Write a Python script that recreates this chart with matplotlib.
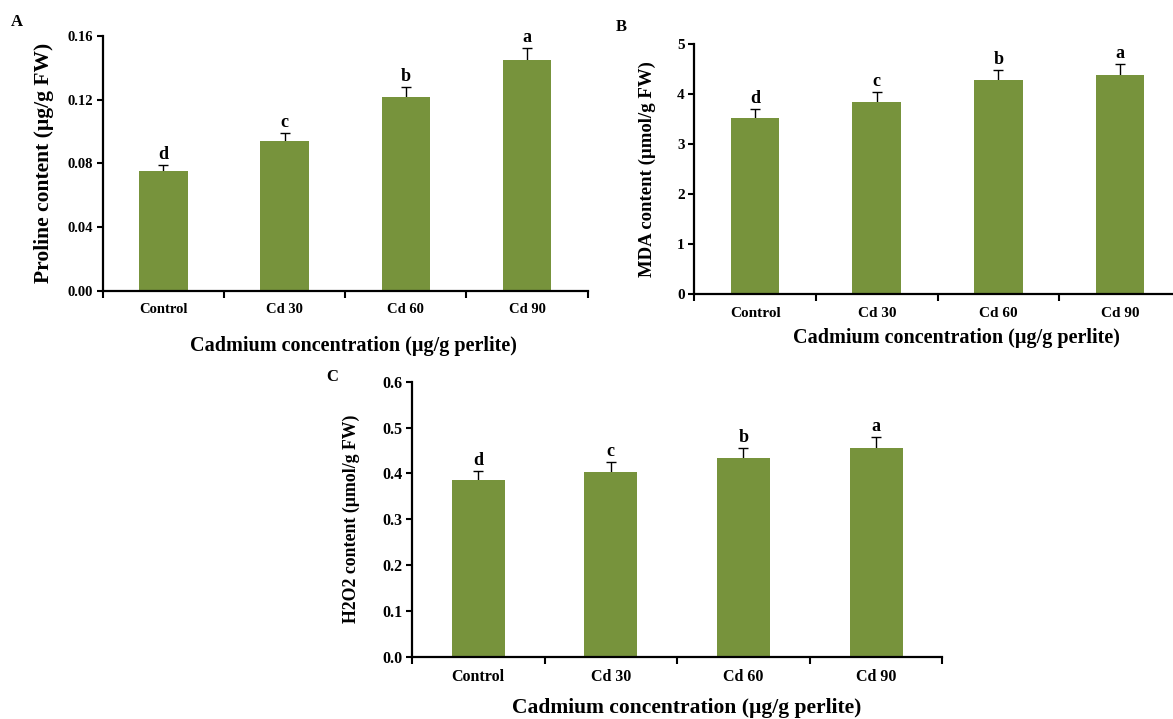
import matplotlib
matplotlib.use('Agg')
import matplotlib.pyplot as plt
import numpy as np

plt.rcParams['font.family'] = ['Liberation Serif', 'DejaVu Serif']
plt.rcParams['font.weight'] = 'bold'

groups = ['Control', 'Cd 30', 'Cd 60', 'Cd 90']
letters = ['d', 'c', 'b', 'a']

proline = [0.075, 0.094, 0.122, 0.145]
proline_err = [0.004, 0.005, 0.006, 0.0073]

mda = [3.52, 3.85, 4.28, 4.38]
mda_err = [0.18, 0.20, 0.21, 0.23]

h2o2 = [0.385, 0.404, 0.433, 0.456]
h2o2_err = [0.020, 0.021, 0.022, 0.023]

bar_color = '#77933C'
xlabel = 'Cadmium concentration (\u00b5g/g perlite)'

fig = plt.figure(figsize=(11.73, 7.19), dpi=100)


def panel(rect, vals, errs, ylim, yticks, yfmt, ylabel, ylab_size, ylab_x, tick_size):
    ax = fig.add_axes(rect)
    x = np.arange(len(groups))
    # error bars behind the bars so only the upper half shows
    ax.errorbar(x, vals, yerr=errs, fmt='none', ecolor='black',
                elinewidth=1, capsize=3.5, capthick=1, zorder=1)
    ax.bar(x, vals, width=0.4, color=bar_color, zorder=2)
    for xi, v, e, l in zip(x, vals, errs, letters):
        ax.annotate(l, (xi, v + e), xytext=(0, 1.5), textcoords='offset points',
                    ha='center', va='bottom', fontsize=13, fontweight='bold')
    ax.set_xlim(-0.5, 3.5)
    ax.set_ylim(*ylim)
    ax.set_yticks(yticks)
    ax.set_yticklabels([yfmt.format(t) for t in yticks], fontsize=tick_size, fontweight='bold')
    ax.set_xticks([-0.5, 0.5, 1.5, 2.5, 3.5])
    ax.set_xticklabels([])
    ax.set_xticks(x, minor=True)
    ax.set_xticklabels(groups, minor=True, fontsize=tick_size, fontweight='bold')
    ax.tick_params(axis='x', which='minor', length=0, pad=9)
    ax.tick_params(axis='x', which='major', length=5, width=1.5, direction='out')
    ax.tick_params(axis='y', length=4, width=1.5, direction='out', pad=3)
    for s in ['top', 'right']:
        ax.spines[s].set_visible(False)
    for s in ['left', 'bottom']:
        ax.spines[s].set_linewidth(1.6)
        ax.spines[s].set_clip_on(False)
    ax.set_ylabel(ylabel, fontsize=ylab_size, fontweight='bold')
    ax.yaxis.set_label_coords(ylab_x, 0.5)
    return ax


axA = panel([0.0876, 0.5957, 0.4133, 0.3542], proline, proline_err, (0, 0.16),
            [0, 0.04, 0.08, 0.12, 0.16], '{:.2f}', 'Proline content (\u00b5g/g FW)', 15.5, -0.100, 10.5)
axB = panel([0.5919, 0.5907, 0.4149, 0.3477], mda, mda_err, (0, 5),
            [0, 1, 2, 3, 4, 5], '{:.0f}', 'MDA content (\u00b5mol/g FW)', 13.5, -0.079, 11)
axC = panel([0.3512, 0.0866, 0.4522, 0.3825], h2o2, h2o2_err, (0, 0.6),
            [0, 0.1, 0.2, 0.3, 0.4, 0.5, 0.6], '{:.1f}', 'H2O2 content (\u00b5mol/g FW)', 12.8, -0.0975, 11.5)

# x-axis titles and panel letters (figure pixel positions / fig size)
fig.text(353.6 / 1173, 1 - 346 / 719, xlabel, ha='center', va='center', fontsize=14.5, fontweight='bold')
fig.text(956 / 1173, 1 - 338 / 719, xlabel, ha='center', va='center', fontsize=14.5, fontweight='bold')
fig.text(687 / 1173, 1 - 708 / 719, xlabel, ha='center', va='center', fontsize=15.5, fontweight='bold')

fig.text(17 / 1173, 1 - 22 / 719, 'A', ha='center', va='center', fontsize=12, fontweight='bold')
fig.text(621.6 / 1173, 1 - 26.7 / 719, 'B', ha='center', va='center', fontsize=12, fontweight='bold')
fig.text(331.7 / 1173, 1 - 376.7 / 719, 'C', ha='center', va='center', fontsize=12, fontweight='bold')

fig.savefig('out.png', dpi=100)
